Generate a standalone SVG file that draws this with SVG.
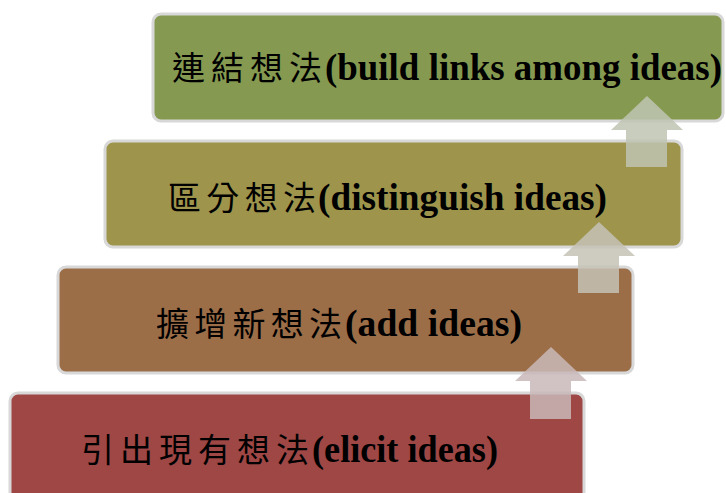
<svg xmlns="http://www.w3.org/2000/svg" width="726" height="493" viewBox="0 0 726 493">
<style>
.box{stroke:#d8d8d8;stroke-width:3}
.cjk{font-family:"Noto Sans CJK TC","Noto Sans CJK SC",sans-serif;font-size:33px;font-weight:normal;fill:#000}
.en{font-family:"Liberation Serif",serif;font-size:37px;font-weight:bold;fill:#000}
</style>
<rect width="726" height="493" fill="#fff"/>
<g id="node-elicit">
<rect class="box" x="10" y="393" width="574" height="110" rx="8" fill="#9E4745"/>
<text y="462"><tspan class="cjk" x="81" textLength="228" lengthAdjust="spacing">引出現有想法</tspan><tspan class="en" x="312" textLength="186" lengthAdjust="spacingAndGlyphs">(elicit ideas)</tspan></text>
</g>
<g id="node-add">
<rect class="box" x="58" y="267" width="575" height="106" rx="8" fill="#9C6E48"/>
<text y="336"><tspan class="cjk" x="156" textLength="186" lengthAdjust="spacing">擴增新想法</tspan><tspan class="en" x="345" textLength="177" lengthAdjust="spacingAndGlyphs">(add ideas)</tspan></text>
</g>
<g id="node-distinguish">
<rect class="box" x="105" y="141" width="577" height="106" rx="8" fill="#9E944C"/>
<text y="210"><tspan class="cjk" x="168" textLength="148" lengthAdjust="spacing">區分想法</tspan><tspan class="en" x="318" textLength="289" lengthAdjust="spacingAndGlyphs">(distinguish ideas)</tspan></text>
</g>
<g id="node-links">
<rect class="box" x="153" y="14" width="570" height="107" rx="8" fill="#859A50"/>
<text y="80"><tspan class="cjk" x="172" textLength="150" lengthAdjust="spacing">連結想法</tspan><tspan class="en" x="325" textLength="397" lengthAdjust="spacingAndGlyphs">(build links among ideas)</tspan></text>
</g>
<g id="connectors">
<path d="M551 347 L587 381 L571 381 L571 419 L530 419 L530 381 L515 381 Z" fill="#C9B9B9" fill-opacity="0.85"/>
<path d="M599 222 L635 256 L619 256 L619 293 L578 293 L578 256 L563 256 Z" fill="#C6C2B6" fill-opacity="0.85"/>
<path d="M647 96 L683 130 L667 130 L667 167 L626 167 L626 130 L611 130 Z" fill="#BEC4B2" fill-opacity="0.85"/>
</g>
</svg>
